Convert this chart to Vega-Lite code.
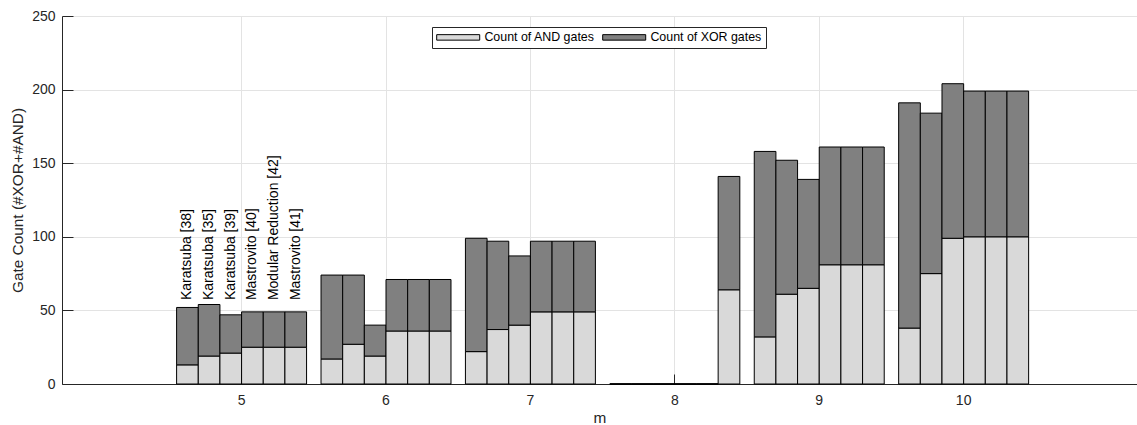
{
  "$schema": "https://vega.github.io/schema/vega-lite/v6.json",
  "width": 1075,
  "height": 368,
  "autosize": {"type": "none"},
  "padding": {"left": 62, "top": 16, "right": 0, "bottom": 41},
  "background": "white",
  "config": {
    "view": {"stroke": null},
    "font": "Liberation Sans",
    "axis": {
      "gridColor": "#e3e3e3",
      "gridWidth": 1,
      "tickColor": "#262626",
      "domainColor": "#262626",
      "labelColor": "#262626",
      "labelFontSize": 14,
      "titleColor": "#262626",
      "titleFontSize": 15.4,
      "titleFontWeight": "normal"
    }
  },
  "layer": [
    {
      "data": {
        "values": [
          {"m": 5, "method": "Karatsuba [38]", "Count of AND gates": 13, "Count of XOR gates": 39},
          {"m": 5, "method": "Karatsuba [35]", "Count of AND gates": 19, "Count of XOR gates": 35},
          {"m": 5, "method": "Karatsuba [39]", "Count of AND gates": 21, "Count of XOR gates": 26},
          {"m": 5, "method": "Mastrovito [40]", "Count of AND gates": 25, "Count of XOR gates": 24},
          {"m": 5, "method": "Modular Reduction [42]", "Count of AND gates": 25, "Count of XOR gates": 24},
          {"m": 5, "method": "Mastrovito [41]", "Count of AND gates": 25, "Count of XOR gates": 24},
          {"m": 6, "method": "Karatsuba [38]", "Count of AND gates": 17, "Count of XOR gates": 57},
          {"m": 6, "method": "Karatsuba [35]", "Count of AND gates": 27, "Count of XOR gates": 47},
          {"m": 6, "method": "Karatsuba [39]", "Count of AND gates": 19, "Count of XOR gates": 21},
          {"m": 6, "method": "Mastrovito [40]", "Count of AND gates": 36, "Count of XOR gates": 35},
          {"m": 6, "method": "Modular Reduction [42]", "Count of AND gates": 36, "Count of XOR gates": 35},
          {"m": 6, "method": "Mastrovito [41]", "Count of AND gates": 36, "Count of XOR gates": 35},
          {"m": 7, "method": "Karatsuba [38]", "Count of AND gates": 22, "Count of XOR gates": 77},
          {"m": 7, "method": "Karatsuba [35]", "Count of AND gates": 37, "Count of XOR gates": 60},
          {"m": 7, "method": "Karatsuba [39]", "Count of AND gates": 40, "Count of XOR gates": 47},
          {"m": 7, "method": "Mastrovito [40]", "Count of AND gates": 49, "Count of XOR gates": 48},
          {"m": 7, "method": "Modular Reduction [42]", "Count of AND gates": 49, "Count of XOR gates": 48},
          {"m": 7, "method": "Mastrovito [41]", "Count of AND gates": 49, "Count of XOR gates": 48},
          {"m": 8, "method": "Karatsuba [38]", "Count of AND gates": 0, "Count of XOR gates": 0},
          {"m": 8, "method": "Karatsuba [35]", "Count of AND gates": 0, "Count of XOR gates": 0},
          {"m": 8, "method": "Karatsuba [39]", "Count of AND gates": 0, "Count of XOR gates": 0},
          {"m": 8, "method": "Mastrovito [40]", "Count of AND gates": 0, "Count of XOR gates": 0},
          {"m": 8, "method": "Modular Reduction [42]", "Count of AND gates": 0, "Count of XOR gates": 0},
          {"m": 8, "method": "Mastrovito [41]", "Count of AND gates": 64, "Count of XOR gates": 77},
          {"m": 9, "method": "Karatsuba [38]", "Count of AND gates": 32, "Count of XOR gates": 126},
          {"m": 9, "method": "Karatsuba [35]", "Count of AND gates": 61, "Count of XOR gates": 91},
          {"m": 9, "method": "Karatsuba [39]", "Count of AND gates": 65, "Count of XOR gates": 74},
          {"m": 9, "method": "Mastrovito [40]", "Count of AND gates": 81, "Count of XOR gates": 80},
          {"m": 9, "method": "Modular Reduction [42]", "Count of AND gates": 81, "Count of XOR gates": 80},
          {"m": 9, "method": "Mastrovito [41]", "Count of AND gates": 81, "Count of XOR gates": 80},
          {"m": 10, "method": "Karatsuba [38]", "Count of AND gates": 38, "Count of XOR gates": 153},
          {"m": 10, "method": "Karatsuba [35]", "Count of AND gates": 75, "Count of XOR gates": 109},
          {"m": 10, "method": "Karatsuba [39]", "Count of AND gates": 99, "Count of XOR gates": 105},
          {"m": 10, "method": "Mastrovito [40]", "Count of AND gates": 100, "Count of XOR gates": 99},
          {"m": 10, "method": "Modular Reduction [42]", "Count of AND gates": 100, "Count of XOR gates": 99},
          {"m": 10, "method": "Mastrovito [41]", "Count of AND gates": 100, "Count of XOR gates": 99}
        ]
      },
      "transform": [
        {"fold": ["Count of AND gates", "Count of XOR gates"], "as": ["gate", "count"]}
      ],
      "mark": {"type": "bar", "stroke": "black", "strokeWidth": 1},
      "encoding": {
        "x": {
          "field": "m",
          "type": "ordinal",
          "scale": {"domain": [5, 6, 7, 8, 9, 10], "paddingInner": 0.1, "paddingOuter": 0.772, "align": 0.514},
          "axis": {
            "title": "m",
            "labelAngle": 0,
            "bandPosition": 0.5,
            "grid": true,
            "tickSize": -10,
            "labelPadding": 19,
            "titlePadding": 3
          }
        },
        "xOffset": {
          "field": "method",
          "type": "nominal",
          "scale": {
            "domain": ["Karatsuba [38]", "Karatsuba [35]", "Karatsuba [39]", "Mastrovito [40]", "Modular Reduction [42]", "Mastrovito [41]"],
            "paddingInner": 0,
            "paddingOuter": 0
          }
        },
        "y": {
          "field": "count",
          "type": "quantitative",
          "stack": "zero",
          "scale": {"domain": [0, 250], "nice": false},
          "axis": {
            "title": "Gate Count (#XOR+#AND)",
            "values": [0, 50, 100, 150, 200, 250],
            "grid": true,
            "tickSize": -11,
            "labelPadding": 18,
            "titlePadding": 6
          }
        },
        "order": {"field": "gate", "sort": "ascending"},
        "color": {
          "field": "gate",
          "type": "nominal",
          "scale": {"domain": ["Count of AND gates", "Count of XOR gates"], "range": ["#d9d9d9", "#808080"]},
          "legend": {
            "orient": "none",
            "legendX": 370,
            "legendY": 11,
            "direction": "horizontal",
            "title": null,
            "symbolType": "M-1,-0.5H6.82V0.5H-1Z",
            "symbolSize": 121,
            "symbolStrokeColor": "black",
            "symbolStrokeWidth": 1,
            "symbolOpacity": 1,
            "labelFontSize": 12.4,
            "labelColor": "black",
            "labelOffset": 36,
            "columnPadding": 5,
            "padding": 4,
            "strokeColor": "#262626",
            "fillColor": "white",
            "cornerRadius": 0
          }
        }
      }
    },
    {
      "data": {
        "values": [
          {"m": 5, "method": "Karatsuba [38]"},
          {"m": 5, "method": "Karatsuba [35]"},
          {"m": 5, "method": "Karatsuba [39]"},
          {"m": 5, "method": "Mastrovito [40]"},
          {"m": 5, "method": "Modular Reduction [42]"},
          {"m": 5, "method": "Mastrovito [41]"}
        ]
      },
      "mark": {"type": "text", "angle": 270, "align": "left", "baseline": "middle", "fontSize": 14, "color": "black"},
      "encoding": {
        "x": {"field": "m", "type": "ordinal"},
        "xOffset": {"field": "method", "type": "nominal"},
        "y": {"datum": 57},
        "text": {"field": "method"}
      }
    }
  ]
}
